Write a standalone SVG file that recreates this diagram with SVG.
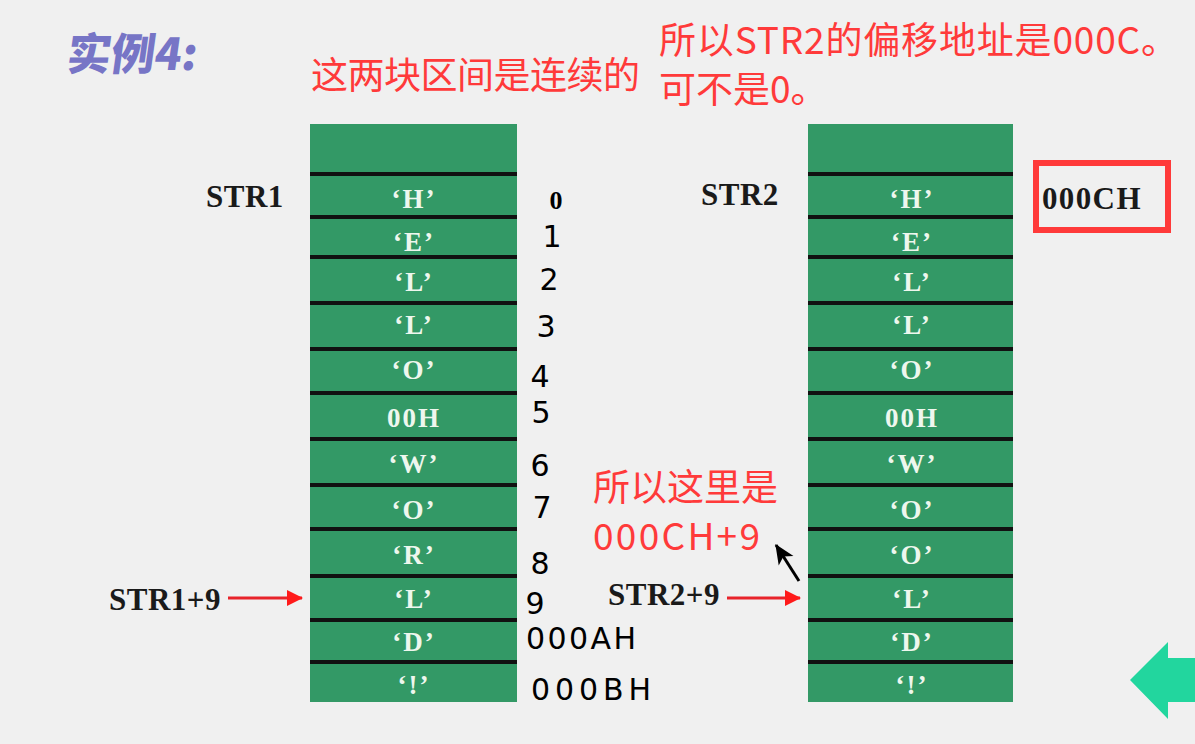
<svg xmlns="http://www.w3.org/2000/svg" width="1195" height="744" viewBox="0 0 1195 744">
<defs>
<style>
.cell{fill:#339966;}
.sep{stroke:#111;stroke-width:4;}
.ct{font-family:"Liberation Serif",serif;font-weight:bold;font-size:27px;letter-spacing:2px;fill:#eef7ee;text-anchor:middle;}
.lbl{font-family:"Liberation Serif",serif;font-weight:bold;font-size:31px;letter-spacing:0.5px;fill:#1a1a1a;}
.red{font-family:"Noto Sans CJK SC","Noto Sans",sans-serif;font-size:37px;fill:#ff3a3a;}
.hw{font-family:"DejaVu Sans",sans-serif;font-size:30px;fill:#000;text-anchor:middle;}
.ra{stroke:#e8232a;stroke-width:3;fill:none;}
</style>
<marker id="redHead" viewBox="0 0 16 16" refX="15" refY="8" markerWidth="16" markerHeight="16" markerUnits="userSpaceOnUse" orient="auto">
<path d="M0,0 L16,8 L0,16 Z" fill="#ff1a1a"/>
</marker>
<marker id="blkHead" viewBox="0 0 16 16" refX="15" refY="8" markerWidth="20" markerHeight="20" markerUnits="userSpaceOnUse" orient="auto">
<path d="M0,1 L16,8 L0,15 L4,8 Z" fill="#000"/>
</marker>
</defs>
<rect width="1195" height="744" fill="#f0f0f0"/>

<g id="title">
<text x="66" y="70" font-family="'Noto Sans CJK SC',sans-serif" font-weight="900" font-size="44" fill="#7775c6" transform="skewX(-8) translate(9,0)">实例4:</text>
</g>

<g id="note-contiguous">
<text class="red" x="311" y="89" textLength="329">这两块区间是连续的</text>
</g>
<g id="note-offset">
<text class="red" x="659" y="54" textLength="519">所以STR2的偏移地址是000C。</text>
<text class="red" x="659" y="103">可不是0。</text>
</g>

<g id="str1-column">
<rect class="cell" x="310" y="124" width="207" height="578"/>
<g class="sep">
<line x1="310" y1="174" x2="517" y2="174"/>
<line x1="310" y1="217" x2="517" y2="217"/>
<line x1="310" y1="257" x2="517" y2="257"/>
<line x1="310" y1="303" x2="517" y2="303"/>
<line x1="310" y1="349" x2="517" y2="349"/>
<line x1="310" y1="393" x2="517" y2="393"/>
<line x1="310" y1="439" x2="517" y2="439"/>
<line x1="310" y1="485" x2="517" y2="485"/>
<line x1="310" y1="529" x2="517" y2="529"/>
<line x1="310" y1="576" x2="517" y2="576"/>
<line x1="310" y1="620" x2="517" y2="620"/>
<line x1="310" y1="662" x2="517" y2="662"/>
</g>
<text class="ct" x="414" y="208">‘H’</text>
<text class="ct" x="414" y="251">‘E’</text>
<text class="ct" x="414" y="291">‘L’</text>
<text class="ct" x="414" y="334">‘L’</text>
<text class="ct" x="414" y="379">‘O’</text>
<text class="ct" x="414" y="427">00H</text>
<text class="ct" x="414" y="473">‘W’</text>
<text class="ct" x="414" y="519">‘O’</text>
<text class="ct" x="414" y="564">‘R’</text>
<text class="ct" x="414" y="608">‘L’</text>
<text class="ct" x="414" y="651">‘D’</text>
<text class="ct" x="414" y="694">‘!’</text>
</g>

<g id="str2-column">
<rect class="cell" x="808" y="124" width="205" height="578"/>
<g class="sep">
<line x1="808" y1="174" x2="1013" y2="174"/>
<line x1="808" y1="217" x2="1013" y2="217"/>
<line x1="808" y1="257" x2="1013" y2="257"/>
<line x1="808" y1="303" x2="1013" y2="303"/>
<line x1="808" y1="349" x2="1013" y2="349"/>
<line x1="808" y1="393" x2="1013" y2="393"/>
<line x1="808" y1="439" x2="1013" y2="439"/>
<line x1="808" y1="485" x2="1013" y2="485"/>
<line x1="808" y1="529" x2="1013" y2="529"/>
<line x1="808" y1="576" x2="1013" y2="576"/>
<line x1="808" y1="620" x2="1013" y2="620"/>
<line x1="808" y1="662" x2="1013" y2="662"/>
</g>
<text class="ct" x="912" y="208">‘H’</text>
<text class="ct" x="912" y="251">‘E’</text>
<text class="ct" x="912" y="291">‘L’</text>
<text class="ct" x="912" y="334">‘L’</text>
<text class="ct" x="912" y="379">‘O’</text>
<text class="ct" x="912" y="427">00H</text>
<text class="ct" x="912" y="473">‘W’</text>
<text class="ct" x="912" y="519">‘O’</text>
<text class="ct" x="912" y="564">‘O’</text>
<text class="ct" x="912" y="608">‘L’</text>
<text class="ct" x="912" y="651">‘D’</text>
<text class="ct" x="912" y="694">‘!’</text>
</g>

<g id="labels">
<text class="lbl" x="206" y="207">STR1</text>
<text class="lbl" x="701" y="205">STR2</text>
<text class="lbl" x="109" y="610" font-size="27">STR1+9</text>
<text class="lbl" x="608" y="605" font-size="27">STR2+9</text>
</g>

<g id="offset-box">
<rect x="1036" y="163" width="132" height="67" fill="none" stroke="#ff3a3a" stroke-width="6"/>
<text class="lbl" x="1042" y="209" font-size="32" textLength="99">000CH</text>
</g>

<g id="offsets">
<text x="556" y="209" font-family="'Liberation Serif',serif" font-weight="bold" font-size="26" text-anchor="middle" fill="#000">0</text>
<text class="hw" x="552" y="247">1</text>
<text class="hw" x="549" y="290">2</text>
<text class="hw" x="546" y="337">3</text>
<text class="hw" x="540" y="387">4</text>
<text class="hw" x="541" y="423">5</text>
<text class="hw" x="540" y="476">6</text>
<text class="hw" x="542" y="518">7</text>
<text class="hw" x="540" y="574" font-size="36">8</text>
<text class="hw" x="535" y="614" font-size="36">9</text>
<text class="hw" x="581" y="649" font-size="30" textLength="110">000AH</text>
<text class="hw" x="591" y="700" font-size="34" textLength="120">000BH</text>
</g>

<g id="note-here">
<text class="red" x="593" y="501" textLength="185">所以这里是</text>
<text class="red" x="593" y="550" font-size="39" textLength="167">000CH+9</text>
</g>

<g id="connectors">
<line class="ra" x1="228" y1="598" x2="302" y2="598" marker-end="url(#redHead)"/>
<line class="ra" x1="727" y1="598" x2="800" y2="598" marker-end="url(#redHead)"/>
<line x1="799" y1="581" x2="776" y2="545" stroke="#000" stroke-width="3" marker-end="url(#blkHead)"/>
</g>

<g id="back-arrow">
<path d="M1130,680 L1168,642 L1168,658 L1195,658 L1195,702 L1168,702 L1168,719 Z" fill="#22d69e"/>
</g>
</svg>
